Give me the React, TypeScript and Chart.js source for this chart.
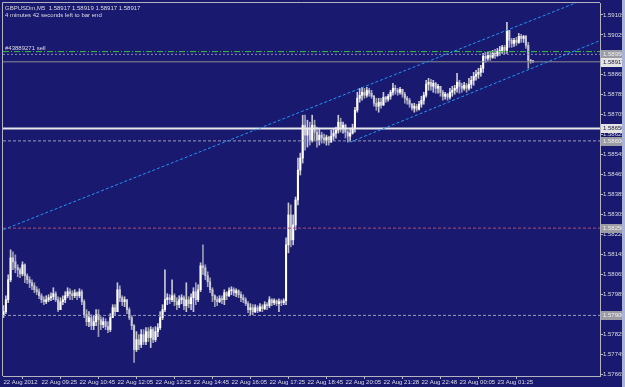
import React, { useEffect, useRef } from 'react';
import { Chart, registerables } from 'chart.js';

Chart.register(...registerables);

// ---------- text ----------
const symbolTitle = 'GBPUSDm,M5  1.58917 1.58919 1.58917 1.58917';
const timerText = '4 minutes 42 seconds left to bar end';
const orderText = '#43889271 sell';

// ---------- axes ----------
const timeLabels = [
  '22 Aug 2012', '22 Aug 09:25', '22 Aug 10:45', '22 Aug 12:05', '22 Aug 13:25',
  '22 Aug 14:45', '22 Aug 16:05', '22 Aug 17:25', '22 Aug 18:45', '22 Aug 20:05',
  '22 Aug 21:28', '22 Aug 22:48', '23 Aug 00:05', '23 Aug 01:25',
];
const barsPerTimeLabel = 16;
const priceTicks = [
  1.59105, 1.59025, 1.58865, 1.58785, 1.58705, 1.58625, 1.58545, 1.58465, 1.58385,
  1.58305, 1.58225, 1.58145, 1.58065, 1.57985, 1.57825, 1.57745, 1.57665,
];
const priceMin = 1.57657;
const priceMax = 1.59153;
const barSlots = 251.4;

// ---------- candles (M5) ----------
const firstOpen = 1.57899;
const closes = [
  1.57915, 1.57963, 1.58043, 1.58131, 1.58115, 1.58091, 1.58083, 1.58067, 1.58103, 1.58059,
  1.58043, 1.58031, 1.58019, 1.58003, 1.57995, 1.57979, 1.57963, 1.57955, 1.57963, 1.57971,
  1.57975, 1.57987, 1.57963, 1.57923, 1.57955, 1.57963, 1.57979, 1.57995, 1.57987, 1.57979,
  1.57991, 1.57979, 1.57995, 1.57955, 1.57903, 1.57875, 1.57891, 1.57859, 1.57875, 1.57903,
  1.57883, 1.57863, 1.57875, 1.57855, 1.57843, 1.57891, 1.57931, 1.57915, 1.58003, 1.57971,
  1.57955, 1.57963, 1.57923, 1.57891, 1.57859, 1.57763, 1.57803, 1.57783, 1.57823, 1.57795,
  1.57835, 1.57811, 1.57843, 1.57803, 1.57835, 1.57851, 1.57891, 1.57923, 1.57963, 1.57971,
  1.57963, 1.57979, 1.57955, 1.57943, 1.57963, 1.57971, 1.57939, 1.57963, 1.57947, 1.57971,
  1.57995, 1.57963, 1.58003, 1.58099, 1.58091, 1.58059, 1.58035, 1.58003, 1.57979, 1.57963,
  1.57955, 1.57967, 1.57963, 1.57991, 1.57979, 1.57999, 1.58003, 1.57991, 1.57999, 1.57983,
  1.57971, 1.57963, 1.57947, 1.57923, 1.57931, 1.57915, 1.57931, 1.57919, 1.57935, 1.57927,
  1.57943, 1.57939, 1.57963, 1.57951, 1.57959, 1.57947, 1.57955, 1.57951, 1.57959, 1.58183,
  1.58303, 1.58203, 1.58263, 1.58363, 1.58483, 1.58531, 1.58663, 1.58623, 1.58651, 1.58603,
  1.58663, 1.58635, 1.58603, 1.58623, 1.58611, 1.58603, 1.58615, 1.58595, 1.58619, 1.58631,
  1.58643, 1.58675, 1.58651, 1.58663, 1.58635, 1.58619, 1.58631, 1.58651, 1.58723, 1.58771,
  1.58783, 1.58795, 1.58783, 1.58803, 1.58791, 1.58779, 1.58751, 1.58739, 1.58755, 1.58743,
  1.58775, 1.58767, 1.58779, 1.58795, 1.58811, 1.58803, 1.58795, 1.58807, 1.58787, 1.58771,
  1.58763, 1.58747, 1.58731, 1.58739, 1.58727, 1.58747, 1.58763, 1.58783, 1.58827, 1.58835,
  1.58819, 1.58831, 1.58811, 1.58819, 1.58795, 1.58779, 1.58787, 1.58775, 1.58795, 1.58803,
  1.58811, 1.58835, 1.58819, 1.58811, 1.58823, 1.58811, 1.58827, 1.58843, 1.58859, 1.58867,
  1.58875, 1.58891, 1.58939, 1.58931, 1.58943, 1.58935, 1.58951, 1.58943, 1.58959, 1.58963,
  1.58975, 1.58963, 1.59043, 1.59003, 1.58991, 1.59003, 1.58995, 1.59019, 1.59011, 1.59019,
  1.58983, 1.58923, 1.58919, 1.58917,
];
const highs = [
  1.57939, 1.57979, 1.58063, 1.58163, 1.58155, 1.58143, 1.58103, 1.58091, 1.58115, 1.58107,
  1.58067, 1.58055, 1.58043, 1.58031, 1.58015, 1.58007, 1.57987, 1.57975, 1.57979, 1.57983,
  1.57991, 1.58011, 1.57995, 1.57975, 1.57971, 1.57979, 1.57995, 1.58011, 1.58007, 1.57999,
  1.58003, 1.57995, 1.58007, 1.58003, 1.57963, 1.57923, 1.57915, 1.57903, 1.57899, 1.57923,
  1.57923, 1.57895, 1.57891, 1.57887, 1.57875, 1.57907, 1.57943, 1.57943, 1.58031, 1.58019,
  1.57979, 1.57975, 1.57963, 1.57931, 1.57899, 1.57863, 1.57835, 1.57823, 1.57843, 1.57843,
  1.57851, 1.57851, 1.57855, 1.57851, 1.57855, 1.57867, 1.57915, 1.57943, 1.58083, 1.57987,
  1.57983, 1.58043, 1.57987, 1.57971, 1.57979, 1.57983, 1.57979, 1.58031, 1.57975, 1.57987,
  1.58011, 1.58031, 1.58023, 1.58111, 1.58183, 1.58103, 1.58075, 1.58051, 1.58011, 1.57983,
  1.57975, 1.57979, 1.57979, 1.58003, 1.57995, 1.58011, 1.58015, 1.58011, 1.58007, 1.58003,
  1.57995, 1.57983, 1.57971, 1.57955, 1.57947, 1.57943, 1.57943, 1.57939, 1.57947, 1.57943,
  1.57955, 1.57951, 1.57975, 1.57967, 1.57967, 1.57963, 1.57967, 1.57963, 1.57967, 1.58211,
  1.58351, 1.58343, 1.58303, 1.58375, 1.58531, 1.58551, 1.58703, 1.58703, 1.58683, 1.58675,
  1.58703, 1.58683, 1.58655, 1.58651, 1.58635, 1.58627, 1.58623, 1.58619, 1.58643, 1.58651,
  1.58655, 1.58703, 1.58691, 1.58675, 1.58667, 1.58643, 1.58651, 1.58667, 1.58735, 1.58795,
  1.58811, 1.58815, 1.58811, 1.58815, 1.58811, 1.58803, 1.58783, 1.58771, 1.58771, 1.58771,
  1.58795, 1.58779, 1.58787, 1.58803, 1.58831, 1.58823, 1.58811, 1.58815, 1.58807, 1.58795,
  1.58779, 1.58771, 1.58751, 1.58751, 1.58747, 1.58759, 1.58779, 1.58795, 1.58843, 1.58851,
  1.58847, 1.58843, 1.58835, 1.58827, 1.58819, 1.58803, 1.58795, 1.58791, 1.58811, 1.58819,
  1.58823, 1.58871, 1.58843, 1.58831, 1.58835, 1.58831, 1.58851, 1.58859, 1.58875, 1.58883,
  1.58891, 1.58903, 1.58951, 1.58955, 1.58955, 1.58959, 1.58963, 1.58967, 1.58971, 1.58979,
  1.58983, 1.58983, 1.59075, 1.59023, 1.59011, 1.59011, 1.59015, 1.59031, 1.59027, 1.59023,
  1.59023, 1.58995, 1.58927, 1.58923,
];
const lows = [
  1.57891, 1.57907, 1.57951, 1.58035, 1.58083, 1.58071, 1.58055, 1.58051, 1.58059, 1.58031,
  1.58027, 1.58011, 1.58003, 1.57991, 1.57983, 1.57967, 1.57951, 1.57943, 1.57947, 1.57955,
  1.57959, 1.57963, 1.57955, 1.57915, 1.57923, 1.57943, 1.57951, 1.57971, 1.57963, 1.57963,
  1.57971, 1.57963, 1.57971, 1.57943, 1.57891, 1.57859, 1.57855, 1.57843, 1.57843, 1.57859,
  1.57815, 1.57843, 1.57851, 1.57843, 1.57831, 1.57835, 1.57891, 1.57899, 1.57915, 1.57955,
  1.57939, 1.57935, 1.57907, 1.57883, 1.57843, 1.57711, 1.57755, 1.57763, 1.57771, 1.57783,
  1.57783, 1.57795, 1.57771, 1.57791, 1.57795, 1.57815, 1.57843, 1.57883, 1.57915, 1.57943,
  1.57947, 1.57955, 1.57939, 1.57923, 1.57931, 1.57947, 1.57923, 1.57915, 1.57931, 1.57923,
  1.57915, 1.57943, 1.57955, 1.57995, 1.58063, 1.58043, 1.58015, 1.57991, 1.57955, 1.57935,
  1.57939, 1.57951, 1.57947, 1.57943, 1.57963, 1.57975, 1.57983, 1.57979, 1.57975, 1.57971,
  1.57955, 1.57951, 1.57939, 1.57911, 1.57903, 1.57903, 1.57911, 1.57911, 1.57915, 1.57915,
  1.57923, 1.57923, 1.57931, 1.57939, 1.57943, 1.57939, 1.57915, 1.57939, 1.57943, 1.57943,
  1.58151, 1.58175, 1.58183, 1.58243, 1.58343, 1.58463, 1.58511, 1.58563, 1.58575, 1.58583,
  1.58595, 1.58603, 1.58575, 1.58583, 1.58591, 1.58591, 1.58583, 1.58583, 1.58595, 1.58603,
  1.58611, 1.58631, 1.58635, 1.58631, 1.58611, 1.58595, 1.58599, 1.58627, 1.58635, 1.58715,
  1.58755, 1.58763, 1.58771, 1.58775, 1.58779, 1.58771, 1.58739, 1.58723, 1.58715, 1.58731,
  1.58751, 1.58755, 1.58759, 1.58767, 1.58783, 1.58787, 1.58783, 1.58787, 1.58775, 1.58751,
  1.58747, 1.58735, 1.58723, 1.58715, 1.58719, 1.58723, 1.58735, 1.58747, 1.58775, 1.58803,
  1.58803, 1.58795, 1.58791, 1.58791, 1.58779, 1.58763, 1.58767, 1.58763, 1.58767, 1.58779,
  1.58787, 1.58795, 1.58791, 1.58795, 1.58803, 1.58795, 1.58803, 1.58811, 1.58823, 1.58843,
  1.58851, 1.58859, 1.58875, 1.58915, 1.58923, 1.58923, 1.58931, 1.58931, 1.58939, 1.58943,
  1.58951, 1.58947, 1.58951, 1.58975, 1.58975, 1.58979, 1.58983, 1.58991, 1.58995, 1.58995,
  1.58971, 1.58891, 1.58911, 1.58915,
];

// ---------- chart objects ----------
const upperChannelBars = [0, 251];
const upperChannelPrices = [1.58244, 1.59191];
const lowerChannelBars = [146, 251.4];
const lowerChannelPrices = [1.58595, 1.59003];

const orderLinePrice = 1.58958;
const orderDotPrice = 1.58947;
const bidPrice = 1.58917;
const whiteLevel = 1.58650;
const dottedLevels = [1.58600, 1.57900];
const redLevel = 1.58250;

const markerPrices = [1.58950, 1.58917, 1.58650, 1.58600, 1.58250, 1.57900];
const markerLight = [false, true, true, false, false, false];

// ---------- styles ----------
const BG = '#191970';
const FRAME = '#b4b4c0';
const TEXT = '#dcdce4';
const FONT_FAMILY = "'Liberation Sans', Arial, sans-serif";
const FONT_SIZE = 6;

export default function App() {
  const ref = useRef<HTMLCanvasElement | null>(null);

  useEffect(() => {
    const canvas = ref.current;
    if (!canvas) return;

    const opens = closes.map((_, i) => (i === 0 ? firstOpen : closes[i - 1]));
    const isUp = closes.map((c, i) => c >= opens[i]);
    const wickData = closes.map((c, i) => ({
      x: i,
      y: [Math.min(lows[i], opens[i], c), Math.max(highs[i], opens[i], c)],
    }));
    const bodyData = closes.map((c, i) => ({ x: i, y: [opens[i], c] }));

    const xMin = -0.2;
    const xMax = barSlots - 0.2;

    const hLine = (price: number, color: string, width: number, dash: number[]) => ({
      type: 'line' as const,
      data: [{ x: xMin, y: price }, { x: xMax, y: price }],
      borderColor: color,
      borderWidth: width,
      borderDash: dash,
      pointRadius: 0,
      order: 0,
    });
    const tLine = (bars: number[], prices: number[]) => ({
      type: 'line' as const,
      data: bars.map((b, k) => ({ x: b, y: prices[k] })),
      borderColor: '#2196f3',
      borderWidth: 1,
      borderDash: [3, 2],
      pointRadius: 0,
      order: 0,
    });

    const overlay = {
      id: 'mt4overlay',
      afterDraw(chart: any) {
        const { ctx, chartArea: a, scales } = chart;
        const ys = scales.y;
        ctx.save();
        ctx.strokeStyle = FRAME;
        ctx.lineWidth = 1;
        ctx.beginPath();
        ctx.moveTo(a.left - 0.5, a.bottom);
        ctx.lineTo(a.left - 0.5, a.top - 0.5);
        ctx.lineTo(a.right, a.top - 0.5);
        ctx.stroke();

        ctx.font = `${FONT_SIZE}px ${FONT_FAMILY}`;
        ctx.textBaseline = 'middle';
        ctx.textAlign = 'left';
        markerPrices.forEach((p, k) => {
          const py = Math.round(ys.getPixelForValue(p));
          ctx.fillStyle = markerLight[k] ? '#e4e4e4' : '#9c9ca4';
          ctx.fillRect(a.right + 1, py - 4, 26, 9);
          ctx.fillStyle = markerLight[k] ? '#202040' : '#f0f0f0';
          ctx.fillText(p.toFixed(5), a.right + 3, py + 0.5);
        });

        ctx.fillStyle = TEXT;
        ctx.textBaseline = 'alphabetic';
        ctx.fillText(symbolTitle, a.left + 2, a.top + 7);
        ctx.fillText(timerText, a.left + 2, a.top + 14);
        const oy = ys.getPixelForValue(orderLinePrice);
        ctx.fillText(orderText, a.left + 2, oy - 2);
        ctx.restore();
      },
    };

    const chart = new Chart(canvas, {
      type: 'bar',
      data: {
        datasets: [
          tLine(upperChannelBars, upperChannelPrices),
          tLine(lowerChannelBars, lowerChannelPrices),
          hLine(orderLinePrice, '#3cc43c', 1, [6, 2, 1, 2]),
          hLine(orderDotPrice, '#8e8eb4', 1, [2, 2]),
          hLine(bidPrice, '#8c8c94', 1, []),
          hLine(whiteLevel, '#e8e8ec', 2, []),
          ...dottedLevels.map((p) => hLine(p, '#9a9ab8', 1, [3, 2])),
          hLine(redLevel, '#b04a70', 1, [3, 2]),
          {
            type: 'bar' as const,
            data: bodyData as any,
            backgroundColor: isUp.map((u) => (u ? '#ffffff' : '#c8c8d4')),
            barThickness: 1.4,
            minBarLength: 1,
            grouped: false,
            order: 1,
          },
          {
            type: 'bar' as const,
            data: wickData as any,
            backgroundColor: isUp.map((u) => (u ? '#c8c8d4' : '#9c9cb4')),
            barThickness: 1,
            minBarLength: 1,
            grouped: false,
            order: 2,
          },
        ] as any,
      },
      options: {
        responsive: false,
        maintainAspectRatio: false,
        devicePixelRatio: 1,
        animation: false,
        events: [],
        layout: { padding: { left: 3, top: 3, right: 0, bottom: 0 } },
        plugins: { legend: { display: false }, tooltip: { enabled: false } },
        scales: {
          x: {
            type: 'linear',
            min: xMin,
            max: xMax,
            offset: false,
            afterBuildTicks: (s: any) => {
              s.ticks = timeLabels.map((_, k) => ({ value: k * barsPerTimeLabel }));
            },
            afterFit: (s: any) => {
              s.height = 11;
              s.paddingLeft = 0;
              s.paddingRight = 0;
              s.paddingTop = 0;
              s.paddingBottom = 0;
            },
            ticks: {
              autoSkip: false,
              maxRotation: 0,
              minRotation: 0,
              align: 'start',
              padding: 0,
              color: TEXT,
              font: { family: FONT_FAMILY, size: FONT_SIZE },
              callback: (v: any) => timeLabels[Math.round(Number(v) / barsPerTimeLabel)] ?? '',
            },
            grid: { drawOnChartArea: false, drawTicks: true, tickLength: 3, color: FRAME },
            border: { display: true, color: FRAME },
          },
          y: {
            type: 'linear',
            position: 'right',
            min: priceMin,
            max: priceMax,
            afterBuildTicks: (s: any) => {
              s.ticks = priceTicks.map((v) => ({ value: v }));
            },
            afterFit: (s: any) => {
              s.width = 25;
              s.paddingLeft = 0;
              s.paddingRight = 0;
              s.paddingTop = 0;
              s.paddingBottom = 0;
            },
            ticks: {
              autoSkip: false,
              padding: 0,
              color: TEXT,
              font: { family: FONT_FAMILY, size: FONT_SIZE },
              callback: (v: any) => Number(v).toFixed(5),
            },
            grid: { drawOnChartArea: false, drawTicks: true, tickLength: 3, color: FRAME },
            border: { display: true, color: FRAME },
          },
        },
      } as any,
      plugins: [overlay],
    });

    return () => chart.destroy();
  }, []);

  return (
    <div
      style={{
        position: 'fixed',
        left: 0,
        top: 0,
        width: 625,
        height: 387,
        background: BG,
        overflow: 'hidden',
      }}
    >
      <canvas ref={ref} width={625} height={387} style={{ display: 'block', width: 625, height: 387 }} />
      <div style={{ position: 'absolute', right: 0, top: 0, width: 3, height: 387, background: '#a9b4d8' }} />
    </div>
  );
}
